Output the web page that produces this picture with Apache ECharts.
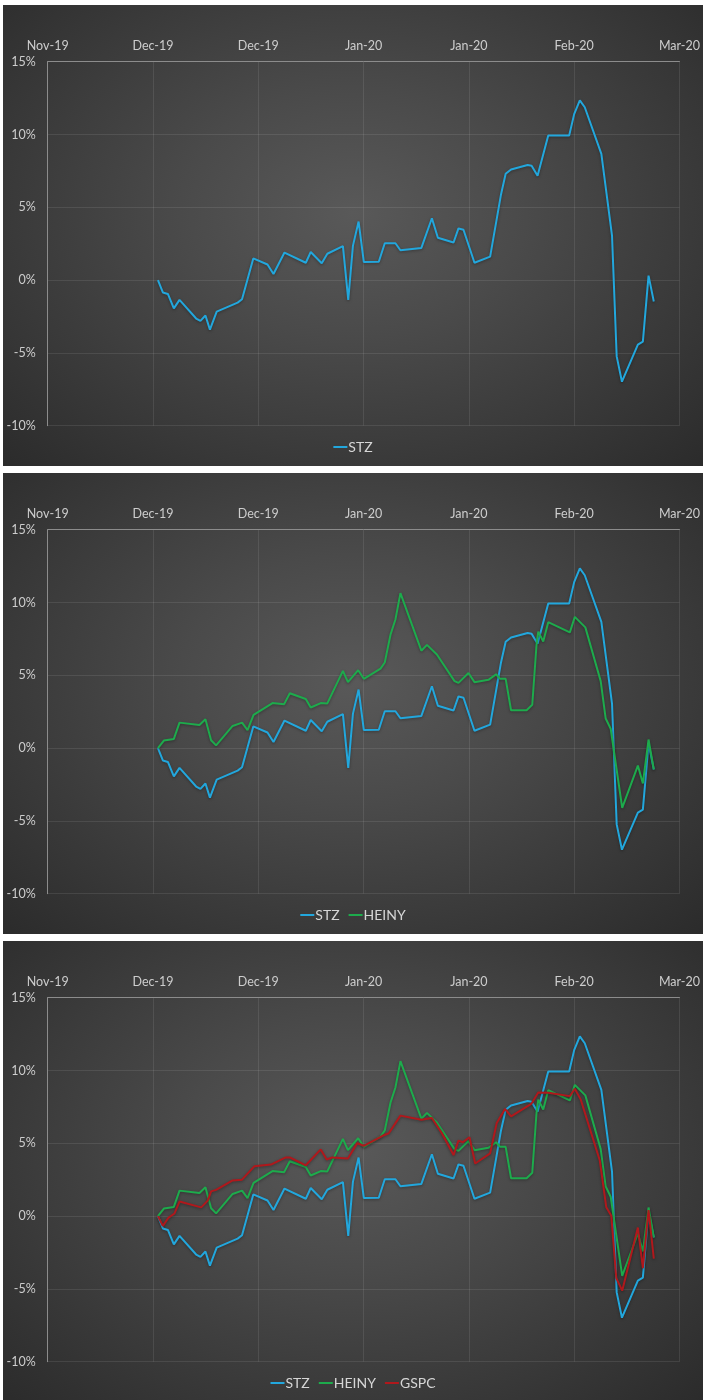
<!DOCTYPE html>
<html>
<head>
<meta charset="utf-8">
<script src="https://cdn.jsdelivr.net/npm/echarts@6/dist/echarts.min.js"></script>
<style>
  html, body { margin: 0; padding: 0; background: #ffffff; width: 703px; height: 1400px; overflow: hidden; }
  .panel { position: absolute; left: 3px; width: 700px; height: 461px;
    background: radial-gradient(ellipse at 50% 45%, #595959 0%, #4a4a4a 35%, #2b2b2b 100%); }
</style>
</head>
<body>
<div id="c1" class="panel" style="top:5px"></div>
<div id="c2" class="panel" style="top:473px"></div>
<div id="c3" class="panel" style="top:941px"></div>
<script>
// Tick labels of the date axis (one every 16 days)
const xTickLabels = ['Nov-19', 'Dec-19', 'Dec-19', 'Jan-20', 'Jan-20', 'Feb-20', 'Mar-20'];

// Cumulative returns (%) — x = days from axis start
const stzDays = [16.75, 17.5, 18.26, 19.17, 20.03, 22.56, 23.21, 23.97, 24.65, 25.68, 28.86, 29.53, 31.24, 33.4, 34.31, 35.98, 39.22, 39.97, 41.64, 42.49, 44.86, 45.67, 46.38, 47.24, 48.04, 50.31, 51.22, 52.84, 53.6, 56.78, 58.38, 59.29, 61.67, 62.42, 63.18, 64.85, 67.23, 68.89, 69.59, 70.41, 72.92, 73.53, 74.44, 76.06, 79.24, 80.0, 80.86, 81.61, 84.13, 85.75, 86.46, 87.26, 89.68, 90.44, 91.3, 92.1];
const stzValues = [0, -0.85, -0.95, -1.94, -1.36, -2.64, -2.8, -2.43, -3.4, -2.17, -1.55, -1.32, 1.49, 1.07, 0.42, 1.89, 1.19, 1.93, 1.16, 1.81, 2.33, -1.36, 2.35, 4.02, 1.24, 1.26, 2.53, 2.53, 2.05, 2.21, 4.25, 2.91, 2.58, 3.55, 3.46, 1.19, 1.61, 5.9, 7.3, 7.6, 7.91, 7.86, 7.17, 9.93, 9.93, 11.4, 12.34, 11.87, 8.67, 3.06, -5.24, -6.98, -4.43, -4.22, 0.31, -1.47];

const heinyDays = [16.75, 17.65, 19.17, 20.03, 23.06, 23.97, 24.83, 25.59, 28.1, 29.53, 30.37, 31.28, 34.16, 35.93, 36.79, 39.22, 39.97, 41.49, 42.49, 44.86, 45.62, 47.18, 48.04, 50.57, 51.22, 52.09, 52.84, 53.6, 56.78, 57.63, 59.14, 61.82, 62.42, 63.94, 64.85, 66.97, 68.14, 68.74, 69.59, 70.41, 72.77, 73.63, 74.28, 74.54, 75.3, 76.06, 79.34, 80.1, 81.7, 84.03, 84.79, 85.55, 87.3, 89.68, 90.44, 91.3, 92.1];
const heinyValues = [0, 0.52, 0.63, 1.75, 1.59, 1.98, 0.54, 0.19, 1.52, 1.75, 1.24, 2.28, 3.09, 3.02, 3.77, 3.37, 2.79, 3.09, 3.07, 5.3, 4.53, 5.35, 4.76, 5.46, 5.88, 7.79, 8.83, 10.64, 6.69, 7.09, 6.43, 4.6, 4.48, 5.16, 4.53, 4.69, 5.07, 4.76, 4.76, 2.6, 2.6, 2.98, 7.1, 8.0, 7.32, 8.65, 7.95, 9.01, 8.29, 4.6, 2.03, 1.33, -4.1, -1.2, -2.43, 0.59, -1.46];

const gspcDays = [16.75, 17.5, 18.37, 19.27, 20.03, 23.32, 24.32, 24.83, 25.59, 28.1, 29.53, 31.39, 33.92, 36.19, 36.79, 39.22, 41.49, 42.4, 43.24, 45.62, 47.03, 48.04, 50.81, 51.83, 53.6, 56.78, 58.38, 59.9, 61.67, 62.42, 63.08, 64.09, 64.96, 67.23, 68.23, 69.5, 70.41, 73.53, 74.54, 76.06, 79.34, 80.1, 81.0, 83.88, 84.88, 85.64, 86.4, 87.3, 89.68, 90.44, 91.3, 92.1];
const gspcValues = [0, -0.67, -0.1, 0.18, 1.0, 0.6, 1.06, 1.7, 1.8, 2.45, 2.5, 3.42, 3.54, 4.03, 4.03, 3.49, 4.58, 3.89, 4.03, 3.96, 5.0, 4.83, 5.5, 5.69, 6.9, 6.62, 6.74, 5.69, 4.19, 5.18, 5.07, 5.42, 3.61, 4.31, 6.39, 7.36, 6.85, 7.73, 8.49, 8.47, 8.24, 8.75, 8.0, 3.84, 0.6, 0.02, -4.26, -5.12, -0.79, -3.57, 0.42, -2.92];

const seriesDefs = {
  STZ:   { days: stzDays,   values: stzValues,   color: '#22a7dd' },
  HEINY: { days: heinyDays, values: heinyValues, color: '#1dab4c' },
  GSPC:  { days: gspcDays,  values: gspcValues,  color: '#b0181c' }
};

const FONT = 'Lato';

function makeOption(names) {
  return {
    backgroundColor: 'transparent',
    animation: false,
    textStyle: { fontFamily: FONT },
    grid: { left: 44.7, right: 21.3, top: 56.7, bottom: 40.3 },
    xAxis: {
      type: 'value', position: 'top', min: 0, max: 96, interval: 16,
      axisLine: { show: true, onZero: false, lineStyle: { color: '#8c8c8c', width: 1 } },
      axisTick: { show: false },
      axisLabel: {
        color: '#cdcdcd', fontSize: 12.5, fontFamily: FONT, margin: 9,
        formatter: v => xTickLabels[Math.round(v / 16)] || ''
      },
      splitLine: { show: true, lineStyle: { color: 'rgba(255,255,255,0.09)', width: 1 } }
    },
    yAxis: {
      type: 'value', min: -10, max: 15, interval: 5,
      axisLine: { show: true, onZero: false, lineStyle: { color: '#8c8c8c', width: 1 } },
      axisTick: { show: false },
      axisLabel: { color: '#cdcdcd', fontSize: 12.5, fontFamily: FONT, margin: 12, formatter: '{value}%' },
      splitLine: { show: true, lineStyle: { color: 'rgba(255,255,255,0.09)', width: 1 } }
    },
    legend: {
      bottom: 7, left: 'center', icon: 'rect', itemWidth: 14, itemHeight: 2, itemGap: 9,
      textStyle: { color: '#d6d6d6', fontSize: 14, fontFamily: FONT, padding: [0, 0, 0, -4] },
      data: names
    },
    series: names.map(n => {
      const d = seriesDefs[n];
      return {
        name: n, type: 'line', showSymbol: false, symbol: 'none',
        data: d.days.map((x, i) => [x, d.values[i]]),
        lineStyle: { color: d.color, width: 2, shadowColor: 'rgba(0,0,0,0.35)', shadowBlur: 3, shadowOffsetY: 1 },
        itemStyle: { color: d.color }
      };
    })
  };
}

const panels = [['STZ'], ['STZ', 'HEINY'], ['STZ', 'HEINY', 'GSPC']];
panels.forEach((names, i) => {
  const chart = echarts.init(document.getElementById('c' + (i + 1)), null, { renderer: 'canvas' });
  chart.setOption(makeOption(names));
});
</script>
</body>
</html>
